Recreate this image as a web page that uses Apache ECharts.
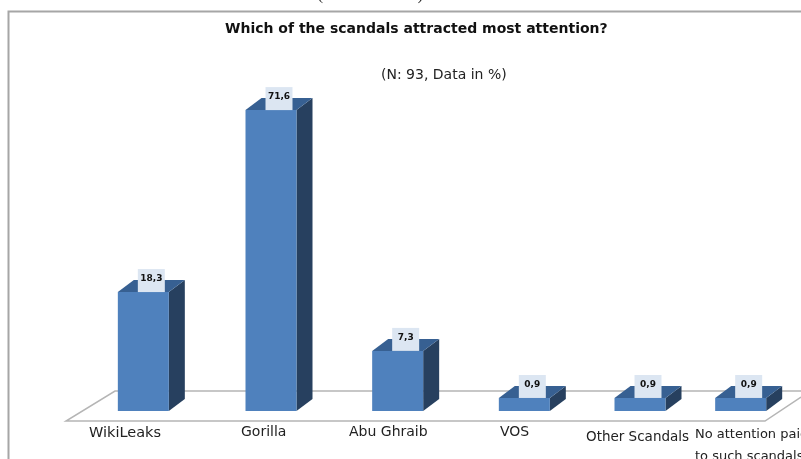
<!DOCTYPE html>
<html><head><meta charset="utf-8">
<style>html,body{margin:0;padding:0;background:#fff;overflow:hidden}#c{width:801px;height:459px;filter:blur(0.6px)}</style>
<script src="https://cdn.jsdelivr.net/npm/echarts@6/dist/echarts.min.js"></script>
</head><body><div id="c"></div>
<script>
const categories = ['WikiLeaks', 'Gorilla', 'Abu Ghraib', 'VOS', 'Other Scandals', 'No attention paid\nto such scandals'];
// Printed labels on the bars
const valueLabels = ['18,3', '71,6', '7,3', '0,9', '0,9', '0,9'];
// Drawn bar heights, on a hidden axis anchored at the tallest bar
// (the reference's lower bars are taller than their printed numbers would give).
const barHeights = [28.3, 71.6, 14.3, 3.1, 3.1, 3.1];
const titleText = 'Which of the scandals attracted most attention?';
const subtitleText = '(N: 93, Data in %)';
const clippedText = '(Robertson 2011).';

// layout tuning: the reference spaces its columns unevenly
const slotNudge = [0.5, 8.5, 15.5, 22.5, 18.5, -0.5];
const DX = 16, DY = 12, BW = 51;
const FONT = 'Verdana, "DejaVu Sans", sans-serif';

const chart = echarts.init(document.getElementById('c'), null, {renderer: 'canvas'});
function renderBar(params, api) {
  const i = api.value(0);
  const top = api.coord([i, api.value(1)]);
  const base = api.coord([i, 0]);
  const x0 = top[0] + slotNudge[i] - BW / 2, x1 = x0 + BW;
  const yt = top[1], yb = base[1];
  const lx = x0 + BW / 2 + 8;
  return {type: 'group', children: [
    {type: 'polygon', shape: {points: [[x1, yt], [x1 + DX, yt - DY], [x1 + DX, yb - DY], [x1, yb]]}, style: {fill: '#27405f'}},
    {type: 'polygon', shape: {points: [[x0, yt], [x0 + DX, yt - DY], [x1 + DX, yt - DY], [x1, yt]]}, style: {fill: '#376092'}},
    {type: 'rect', shape: {x: x0, y: yt, width: BW, height: yb - yt}, style: {fill: '#4f81bd'}},
    {type: 'rect', shape: {x: lx - 13.5, y: yt - 23, width: 27, height: 23}, style: {fill: '#dce6f2'}},
    {type: 'text', x: lx, y: yt - 13, style: {text: valueLabels[i], fill: '#111', font: 'bold 9px ' + FONT, align: 'center', verticalAlign: 'middle'}}
  ]};
}
const labelFont = '14px ' + FONT;
const labelFontSmall = '13.5px ' + FONT;
chart.setOption({
  animation: false,
  grid: {left: 83, right: 0, top: 0, bottom: 48, containLabel: false},
  xAxis: {type: 'category', data: categories, boundaryGap: true, show: false},
  yAxis: {type: 'value', min: 0, max: 97.8, show: false},
  graphic: [
    {type: 'polyline', z: 0, shape: {points: [[8.5, 459], [8.5, 11.5], [801, 11.5]]}, style: {stroke: '#a6a6a6', fill: null, lineWidth: 2}},
    {type: 'polyline', z: 0, shape: {points: [[801, 391], [115, 391], [66, 421], [765, 421], [801, 397]]}, style: {stroke: '#b5b5b5', fill: null, lineWidth: 1.5}},
    {type: 'text', left: 318, top: -11, style: {text: clippedText, font: '15px "Liberation Serif", serif', fill: '#222'}},
    {type: 'text', left: 225, top: 22, style: {text: titleText, font: 'bold 14px ' + FONT, fill: '#111'}},
    {type: 'text', left: 381, top: 68, style: {text: subtitleText, font: labelFont, fill: '#222'}},
    {type: 'text', left: 89, top: 426, style: {text: categories[0], font: '14.5px ' + FONT, fill: '#222'}},
    {type: 'text', left: 241, top: 425, style: {text: categories[1], font: labelFont, fill: '#222'}},
    {type: 'text', left: 349, top: 425, style: {text: categories[2], font: labelFont, fill: '#222'}},
    {type: 'text', left: 500, top: 425, style: {text: categories[3], font: labelFont, fill: '#222'}},
    {type: 'text', left: 586, top: 430, style: {text: categories[4], font: labelFontSmall, fill: '#222'}},
    {type: 'text', left: 695, top: 424, style: {text: categories[5], font: '13px ' + FONT, fill: '#222', lineHeight: 22}}
  ],
  series: [{type: 'custom', renderItem: renderBar, data: barHeights.map((v, i) => [i, v]), encode: {x: 0, y: 1}, z: 5}]
});
</script></body></html>
